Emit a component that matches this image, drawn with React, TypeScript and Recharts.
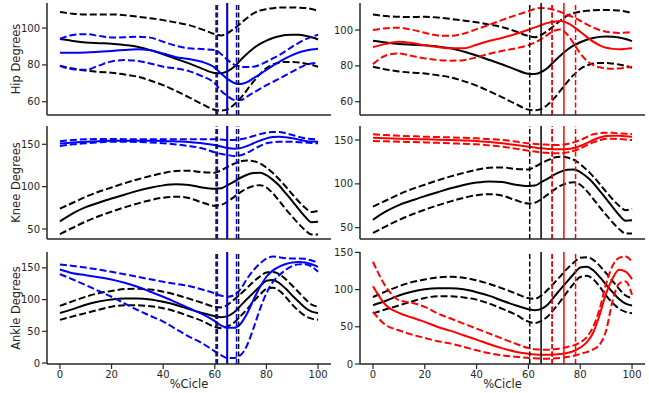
import React from 'react';
import { LineChart, Line, XAxis, YAxis, ReferenceLine } from 'recharts';

const pct = [0, 5, 10, 15, 20, 25, 30, 35, 40, 45, 50, 55, 60, 62.5, 65, 67.5, 70, 72.5, 75, 77.5, 80, 82.5, 85, 87.5, 90, 92.5, 95, 97.5, 100];
const xTicks = [0, 20, 40, 60, 80, 100];

// Hip
const hipRefMean = [94, 93, 92.2, 91.8, 91.5, 90.8, 89.9, 88, 85.8, 83.3, 80.8, 78, 75.6, 75.5, 76.6, 79, 82.6, 86, 89, 91.4, 93.2, 94.6, 95.6, 96.2, 96.4, 96.3, 95.8, 95, 93.8];
const hipRefUp = [108.7, 107.8, 107.4, 107.3, 107.4, 107, 106.2, 105.3, 104.3, 103, 101.6, 99.3, 96.7, 96, 97.3, 99.7, 102.5, 105.5, 108, 109.5, 110.3, 110.8, 111.1, 111.2, 111.2, 111.1, 110.9, 110.3, 109.4];
const hipRefLow = [79.5, 78, 76.9, 76.2, 75.8, 74.8, 73.6, 71.5, 69, 65.8, 62.4, 58.8, 55.6, 55.2, 56, 58.5, 62, 66.5, 71, 75, 78.3, 80.2, 81.3, 81.6, 81.6, 81.3, 80.8, 80, 79];
const hipBlueMean = [86.6, 86.6, 86.7, 87.1, 87.6, 88.1, 88.5, 88, 86.2, 84.2, 83.2, 81.7, 78.5, 75.2, 72.3, 70.2, 69.6, 70.6, 72.8, 75, 77.3, 79.6, 81.7, 83.7, 85.3, 86.7, 87.7, 88.3, 88.8];
const hipBlueUp = [94.2, 96.2, 96.7, 95.8, 94.9, 95, 95.3, 94.8, 92.6, 90.4, 89, 88.6, 88, 85.8, 82.6, 80.2, 79, 78.8, 79, 80, 81.7, 83.5, 85.3, 87.6, 89.9, 92, 93.8, 95.2, 96.4];
const hipBlueLow = [79.5, 77.6, 77.3, 79.6, 81.9, 82.6, 82.2, 80.8, 79, 78.1, 76.6, 73.9, 70, 65.8, 63, 61, 60.9, 62.8, 65, 67, 69, 70.8, 72.6, 74.5, 76.3, 78.2, 79.9, 80.8, 81.2];
const hipRedMean = [90.5, 92.3, 93.5, 92.8, 91.5, 90.5, 89.8, 89.8, 91.8, 94, 95.7, 97.8, 100.2, 101.5, 102.8, 104, 104.7, 105, 104, 101.8, 99.1, 96.2, 93.5, 91.5, 90.1, 89.5, 89.3, 89.5, 89.8];
const hipRedUp = [100, 101, 101.3, 100.2, 98.5, 97, 96.8, 98, 100.5, 103, 105.7, 108.2, 110.5, 111.8, 112.3, 112, 111.2, 110, 108.5, 107, 105.2, 103.2, 101.5, 100, 99.1, 98.6, 98.4, 98.6, 98.9];
const hipRedLow = [81, 85.8, 87, 85.6, 84.2, 83.3, 82.9, 83.2, 84.8, 86.8, 88.4, 89.8, 91.6, 93, 95, 97.5, 99.6, 100.3, 97.5, 92.5, 87, 83, 80.4, 79.2, 78.6, 78.4, 78.6, 79, 79.5];

// Knee
const kneeRefMean = [59, 68.5, 75.8, 81, 86, 90.5, 95, 98.8, 101.5, 102.8, 102, 99, 97.5, 98, 102, 106, 110.5, 114, 116, 116.5, 113.5, 108, 101, 92, 83, 73.5, 64.5, 58, 58.5];
const kneeRefUp = [74, 81, 88, 94, 99, 104, 108.5, 112.5, 116, 118.5, 118.8, 117, 116.5, 119.5, 123.5, 127, 130, 131, 130, 127.5, 122.5, 116, 108.5, 100, 91, 82.5, 75, 70, 71.5];
const kneeRefLow = [44, 51.5, 58.8, 65, 70.5, 75.5, 80, 84, 87, 88.2, 86.5, 81.5, 77.5, 78.5, 82.5, 88, 93.5, 98, 100.8, 101.8, 99, 92, 83, 73.5, 64.5, 56, 48.5, 43.5, 43.5];
const kneeBlueMean = [151, 152.2, 153, 153.7, 154.2, 154.3, 154.3, 154.1, 153.9, 153.4, 152.8, 151.2, 149.2, 147.3, 145.5, 144.6, 145.5, 148, 151.2, 154.3, 157, 158.5, 159, 158.3, 157.1, 155.5, 154, 153.2, 153];
const kneeBlueUp = [153.5, 155, 155.9, 156.2, 156.3, 156.1, 155.9, 155.9, 155.9, 155.9, 155.9, 155.9, 155.9, 155.6, 155.1, 155.2, 155.9, 157.5, 159.8, 162, 163.8, 164.5, 164.6, 163, 161, 158.8, 157.1, 156.3, 155.9];
const kneeBlueLow = [148, 150, 151.2, 152.3, 153, 153, 152.8, 152.2, 151.2, 149.8, 148, 145.3, 140.5, 138.5, 137.3, 136.3, 137, 140, 144, 148, 151.2, 152.5, 153, 153, 153, 152.5, 152, 151.6, 151.2];
const kneeRedMean = [152.7, 152, 151.5, 151.1, 150.8, 150.4, 150, 149.5, 148.9, 147.7, 146.2, 144.3, 142.4, 141.4, 140.5, 139.9, 139.4, 139.4, 139.7, 141, 143.2, 146.5, 150, 152.8, 154.6, 155, 154.9, 154.3, 153.8];
const kneeRedUp = [156.5, 155.6, 154.9, 154.3, 153.8, 153.4, 153, 152.5, 151.9, 151, 150, 148.2, 146.2, 145.6, 145.1, 144.7, 144.3, 144.5, 145.4, 147.3, 150, 153.3, 156.5, 157.8, 158.4, 158.2, 157.6, 157.2, 156.8];
const kneeRedLow = [148.9, 148.5, 148.1, 147.7, 147.3, 146.8, 146.2, 145.7, 145.1, 143.9, 142.4, 140.2, 137.8, 136.8, 135.9, 135.3, 134.8, 135, 135.9, 137.8, 140.5, 144, 147.3, 149.8, 151.5, 151.5, 151.1, 150.5, 150];

// Ankle
const ankleRefMean = [79, 85, 92, 97, 100.3, 101.7, 101.7, 100.3, 96.5, 91.5, 85, 79, 73.7, 72.3, 74, 80, 90.5, 101, 111, 121, 129.6, 130.8, 126, 117, 106.5, 96.5, 87.2, 81, 78.7];
const ankleRefUp = [90, 97.5, 104.5, 110, 113.5, 116.5, 117.2, 116, 112.5, 107.5, 101.5, 95, 88.5, 87.7, 92, 100, 109, 118.5, 128.2, 136.5, 142.7, 143.6, 140, 132, 122, 111.5, 101, 92, 89];
const ankleRefLow = [68, 73.5, 78.7, 84, 88.8, 91, 91, 89.5, 86.5, 81, 74, 66.5, 57, 55, 58, 64, 74, 85, 97, 108, 117, 118.5, 114, 104, 92, 82, 74.3, 70, 68.3];
const ankleBlueMean = [147.4, 141.5, 138.5, 135.2, 131.7, 126.5, 120.2, 112.4, 104.5, 95.5, 86.3, 77.4, 66, 59, 55.5, 55.5, 62, 78, 100, 120, 136, 146, 152, 156, 158.4, 159.2, 158.4, 155.8, 151.6];
const ankleBlueUp = [155.3, 153, 150.5, 147.2, 143.8, 140, 135.9, 132, 128.1, 124.7, 121.3, 116, 109.8, 106, 104.5, 107, 117, 133, 146.4, 157, 164.7, 167.8, 166.6, 165.3, 164.7, 164.7, 164.3, 161.5, 157.9];
const ankleBlueLow = [140.1, 131.7, 122.8, 113.5, 104.5, 94, 83.6, 74.5, 65.3, 53.5, 41.8, 31.4, 18.5, 12, 7.8, 8, 12.5, 28, 55, 85, 110, 128, 138.5, 147, 153, 155.5, 155.8, 152, 143.8];
const ankleRedMean = [104.6, 79, 68.7, 62.4, 56.6, 49.8, 44.5, 38.6, 32.8, 26.5, 21, 16.5, 13.8, 12.8, 12.3, 12.3, 12.6, 13.3, 14.8, 17.5, 22, 29, 42, 66, 95, 115, 126.5, 124, 114];
const ankleRedUp = [137.4, 103.7, 85.8, 82.2, 76.8, 67.8, 61.1, 54.3, 47.6, 40.8, 34.1, 27.4, 21.5, 19.8, 19.3, 19.3, 19.8, 21, 22.9, 25, 29, 36, 50, 74, 108, 132, 142.5, 144.5, 137.5];
const ankleRedLow = [70, 52.1, 45.4, 39.5, 35, 30.5, 27.4, 22.9, 18.4, 14.5, 11.7, 9.6, 8.2, 7.6, 7.2, 7.2, 7.6, 8.3, 9.4, 11, 13.5, 16, 19.5, 26, 45, 85, 108, 111, 93];

// Events (% cycle): [lower, mean, upper]
const refEvent = [60.5, 64.9, 69.2];
const blueEvent = [61.0, 64.7, 68.4];
const redEvent = [69.2, 73.7, 78.2];

const BLACK = '#000000';
const BLUE = '#0000ff';
const RED = '#ff0000';
const AX = '#262626';
const FONT = 'DejaVu Sans';

type Series = { vals: number[]; color: string; dashed: boolean };

const trio = (m: number[], u: number[], l: number[], color: string): Series[] => [
  { vals: u, color, dashed: true },
  { vals: l, color, dashed: true },
  { vals: m, color, dashed: false },
];

type PanelProps = {
  plotLeft: number;
  plotTop: number;
  plotW: number;
  plotH: number;
  yw: number;
  xh: number;
  domain: [number, number];
  yTicks: number[];
  series: Series[];
  events: { vals: number[]; color: string }[];
  ylabel?: string;
  bottom: boolean;
};

const M = 8;

function Panel(p: PanelProps) {
  const data = pct.map((x, i) => {
    const o: any = { x };
    p.series.forEach((s, j) => {
      o['s' + j] = s.vals[i];
    });
    return o;
  });
  const chartLeft = p.plotLeft - p.yw;
  const chartTop = p.plotTop - M;
  const width = p.yw + p.plotW + 2;
  const height = M + p.plotH + p.xh;
  const tickStyle = { fontFamily: FONT, fontSize: 10, fill: AX };
  const yLabelContent = (props: any) => {
    const vb = props && props.viewBox ? props.viewBox : { y: M, height: p.plotH };
    const cx = 16 - chartLeft;
    const cy = vb.y + vb.height / 2;
    return (
      <text
        x={cx}
        y={cy}
        transform={`rotate(-90, ${cx}, ${cy})`}
        textAnchor="middle"
        dominantBaseline="central"
        fontFamily={FONT}
        fontSize={11.5}
        fill={AX}
      >
        {p.ylabel}
      </text>
    );
  };
  const xLabelContent = () => {
    const cx = p.yw + p.plotW / 2;
    const cy = 384 - chartTop;
    return (
      <text x={cx} y={cy} textAnchor="middle" dominantBaseline="central" fontFamily={FONT} fontSize={11.5} fill={AX}>
        %Cicle
      </text>
    );
  };
  return (
    <div style={{ position: 'absolute', left: chartLeft, top: chartTop, width, height }}>
      <LineChart width={width} height={height} data={data} margin={{ top: M, right: 2, bottom: 0, left: 0 }}>
        <XAxis
          dataKey="x"
          type="number"
          domain={[-5, 105]}
          ticks={xTicks}
          allowDataOverflow
          height={p.xh}
          tickSize={5}
          tickMargin={2}
          interval={0}
          tick={p.bottom ? tickStyle : false}
          tickLine={{ stroke: AX, strokeWidth: 1.2 }}
          axisLine={{ stroke: AX, strokeWidth: 1.5 }}
          label={p.bottom ? { content: xLabelContent } : undefined}
        />
        <XAxis
          xAxisId="top"
          orientation="top"
          dataKey="x"
          type="number"
          domain={[-5, 105]}
          height={0}
          tick={false}
          tickLine={false}
          axisLine={{ stroke: AX, strokeWidth: 1.5 }}
        />
        <YAxis
          type="number"
          domain={p.domain}
          ticks={p.yTicks}
          allowDataOverflow
          width={p.yw}
          tickSize={5}
          tickMargin={2}
          interval={0}
          tick={tickStyle}
          tickLine={{ stroke: AX, strokeWidth: 1.2 }}
          axisLine={{ stroke: AX, strokeWidth: 1.5 }}
          label={p.ylabel ? { content: yLabelContent } : undefined}
        />
        <YAxis
          yAxisId="right"
          orientation="right"
          type="number"
          domain={[0, 1]}
          width={0}
          tick={false}
          tickLine={false}
          axisLine={{ stroke: AX, strokeWidth: 1.5 }}
        />
        {p.series.map((s, j) => (
          <Line
            key={'s' + j}
            dataKey={'s' + j}
            type="monotone"
            stroke={s.color}
            strokeWidth={2}
            strokeDasharray={s.dashed ? '7 3' : undefined}
            dot={false}
            activeDot={false}
            isAnimationActive={false}
          />
        ))}
        {p.events.map((ev, k) =>
          ev.vals.map((v, i) => (
            <ReferenceLine
              key={'e' + k + '_' + i}
              x={v}
              stroke={ev.color}
              strokeWidth={1.5}
              strokeDasharray={i === 1 ? undefined : '5 2.5'}
            />
          ))
        )}
      </LineChart>
    </div>
  );
}

const L = { plotLeft: 47, plotW: 284, yw: 47 };
const R = { plotLeft: 360, plotW: 285, yw: 40 };
const rows = [
  { plotTop: 3, plotH: 112, xh: 10, bottom: false },
  { plotTop: 126, plotH: 113, xh: 10, bottom: false },
  { plotTop: 252, plotH: 112, xh: 29, bottom: true },
];

export default function App() {
  return (
    <div style={{ position: 'absolute', left: 0, top: 0, width: 649, height: 393, background: '#fff', overflow: 'hidden' }}>
      <Panel {...L} {...rows[0]} domain={[52.8, 113.6]} yTicks={[60, 80, 100]} ylabel="Hip Degrees"
        series={[...trio(hipRefMean, hipRefUp, hipRefLow, BLACK), ...trio(hipBlueMean, hipBlueUp, hipBlueLow, BLUE)]}
        events={[{ vals: refEvent, color: BLACK }, { vals: blueEvent, color: BLUE }]} />
      <Panel {...R} {...rows[0]} domain={[52.6, 115.1]} yTicks={[60, 80, 100]}
        series={[...trio(hipRefMean, hipRefUp, hipRefLow, BLACK), ...trio(hipRedMean, hipRedUp, hipRedLow, RED)]}
        events={[{ vals: refEvent, color: BLACK }, { vals: redEvent, color: RED }]} />
      <Panel {...L} {...rows[1]} domain={[38.2, 171.6]} yTicks={[50, 100, 150]} ylabel="Knee Degrees"
        series={[...trio(kneeRefMean, kneeRefUp, kneeRefLow, BLACK), ...trio(kneeBlueMean, kneeBlueUp, kneeBlueLow, BLUE)]}
        events={[{ vals: refEvent, color: BLACK }, { vals: blueEvent, color: BLUE }]} />
      <Panel {...R} {...rows[1]} domain={[37.1, 166]} yTicks={[50, 100, 150]}
        series={[...trio(kneeRefMean, kneeRefUp, kneeRefLow, BLACK), ...trio(kneeRedMean, kneeRedUp, kneeRedLow, RED)]}
        events={[{ vals: refEvent, color: BLACK }, { vals: redEvent, color: RED }]} />
      <Panel {...L} {...rows[2]} domain={[-1.5, 175]} yTicks={[0, 50, 100, 150]} ylabel="Ankle Degrees"
        series={[...trio(ankleRefMean, ankleRefUp, ankleRefLow, BLACK), ...trio(ankleBlueMean, ankleBlueUp, ankleBlueLow, BLUE)]}
        events={[{ vals: refEvent, color: BLACK }, { vals: blueEvent, color: BLUE }]} />
      <Panel {...R} {...rows[2]} domain={[0, 150.5]} yTicks={[0, 50, 100, 150]}
        series={[...trio(ankleRefMean, ankleRefUp, ankleRefLow, BLACK), ...trio(ankleRedMean, ankleRedUp, ankleRedLow, RED)]}
        events={[{ vals: refEvent, color: BLACK }, { vals: redEvent, color: RED }]} />
    </div>
  );
}
